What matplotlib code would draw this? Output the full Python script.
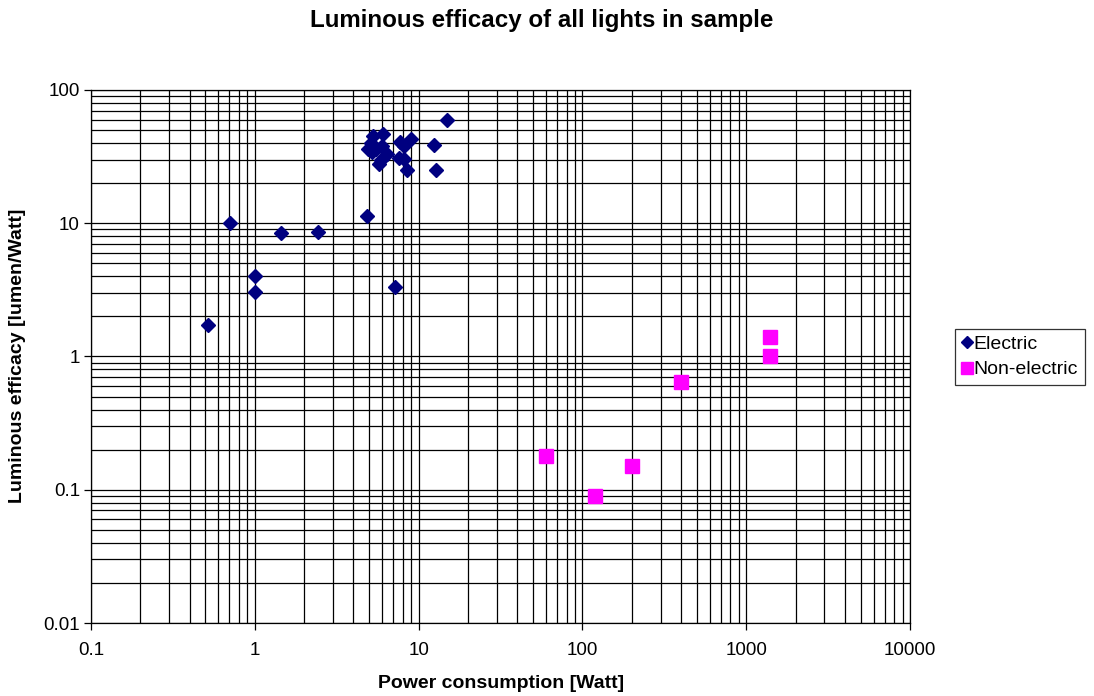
import matplotlib
matplotlib.use("Agg")
import matplotlib.pyplot as plt
from matplotlib.ticker import LogLocator, FuncFormatter, NullFormatter

plt.rcParams['font.family'] = ['Liberation Sans', 'DejaVu Sans']

elec_power = [0.52, 0.71, 1.0, 1.0, 1.44, 2.42, 4.85, 7.2, 15.0, 12.4, 12.7,
              6.1, 5.3, 5.1, 4.9, 5.5, 5.9, 5.7, 6.4, 7.7, 8.1, 9.0, 7.6, 8.2, 8.5, 5.2, 6.0]
elec_eff = [1.73, 10.0, 4.0, 3.05, 8.5, 8.6, 11.4, 3.3, 60.0, 38.5, 25.0,
            47.0, 44.8, 40.0, 35.8, 35.8, 30.0, 28.0, 33.0, 41.0, 38.0, 43.0, 31.0, 30.5, 25.0, 34.0, 38.0]

nonel_power = [60, 120, 200, 400, 1400, 1400]
nonel_eff = [0.18, 0.09, 0.15, 0.64, 1.39, 1.0]

W, H = 1094, 696
fig = plt.figure(figsize=(W/100, H/100), dpi=100)
ax = fig.add_axes([91/W, 1 - 623/H, (910-91)/W, (623-90)/H])

ax.set_xscale('log')
ax.set_yscale('log')
ax.set_xlim(0.1, 10000)
ax.set_ylim(0.01, 100)

ax.xaxis.set_major_locator(LogLocator(base=10, numticks=10))
ax.yaxis.set_major_locator(LogLocator(base=10, numticks=10))
ax.xaxis.set_minor_locator(LogLocator(base=10, subs=range(2, 10), numticks=20))
ax.yaxis.set_minor_locator(LogLocator(base=10, subs=range(2, 10), numticks=20))
fmt = FuncFormatter(lambda v, p: ('%g' % v))
ax.xaxis.set_major_formatter(fmt)
ax.yaxis.set_major_formatter(fmt)
ax.xaxis.set_minor_formatter(NullFormatter())
ax.yaxis.set_minor_formatter(NullFormatter())

ax.grid(True, which='both', color='black', linewidth=0.9)
ax.set_axisbelow(True)
for s in ax.spines.values():
    s.set_color('black')
    s.set_linewidth(0.9)

ax.tick_params(which='major', direction='out', length=5, labelsize=13.5, width=0.9)
ax.tick_params(which='minor', length=0)
ax.tick_params(axis='x', pad=9)
ax.tick_params(axis='y', pad=3)

ax.plot(elec_power, elec_eff, linestyle='none', marker='D', markersize=7,
        color='#000080', label='Electric', clip_on=False)
ax.plot(nonel_power, nonel_eff, linestyle='none', marker='s', markersize=10,
        color='#FF00FF', label='Non-electric', clip_on=False)

ax.set_xlabel('Power consumption [Watt]', fontsize=14, fontweight='bold')
ax.xaxis.set_label_coords(501/W - 91/W, 0, transform=fig.transFigure)
ax.xaxis.label.set_position((501/W, 1 - 683/H))
ax.xaxis.label.set_va('center')
ax.set_ylabel('Luminous efficacy [lumen/Watt]', fontsize=14, fontweight='bold')
ax.yaxis.set_label_coords(18/W, 1 - 356/H, transform=fig.transFigure)
ax.yaxis.label.set_va('center')
fig.text(542/W, 1 - 20/H, 'Luminous efficacy of all lights in sample',
         ha='center', va='center', fontsize=17.4, fontweight='bold')

leg = fig.legend(loc='center left', bbox_to_anchor=(955/W, 1 - 357/H), fontsize=14,
                 frameon=True, fancybox=False, edgecolor='black', handlelength=0.5,
                 handletextpad=0.1, borderpad=0.35, labelspacing=0.4, markerscale=0.85,
                 borderaxespad=0)
leg.get_frame().set_linewidth(0.9)

fig.savefig('out.png', dpi=100)
